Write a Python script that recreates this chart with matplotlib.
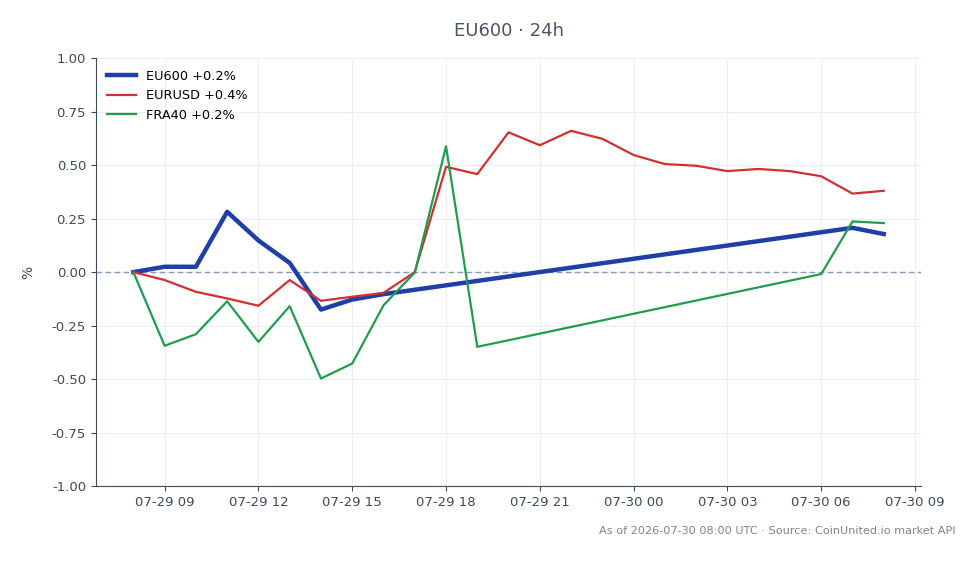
import numpy as np
import pandas as pd
import matplotlib
matplotlib.use("Agg")
import matplotlib.pyplot as plt
import matplotlib.dates as mdates

# Datos (% de variación en 24h)
eu600_t = ["2026-07-29 08:00", "2026-07-29 09:00", "2026-07-29 10:00", "2026-07-29 11:00",
           "2026-07-29 12:00", "2026-07-29 13:00", "2026-07-29 14:00", "2026-07-29 15:00",
           "2026-07-29 16:00", "2026-07-30 07:00", "2026-07-30 08:00"]
eu600_v = [0.0, 0.025, 0.025, 0.282, 0.148, 0.043, -0.175, -0.128, -0.103, 0.207, 0.178]

eurusd_t = list(pd.date_range("2026-07-29 08:00", "2026-07-30 08:00", freq="h").strftime("%Y-%m-%d %H:%M"))
eurusd_v = [0.0, -0.037, -0.092, -0.123, -0.157, -0.037, -0.134, -0.115, -0.097, 0.0,
            0.492, 0.458, 0.653, 0.593, 0.66, 0.623, 0.547, 0.505, 0.497, 0.472,
            0.482, 0.472, 0.448, 0.367, 0.38]

fra40_t = ["2026-07-29 08:00", "2026-07-29 09:00", "2026-07-29 10:00", "2026-07-29 11:00",
           "2026-07-29 12:00", "2026-07-29 13:00", "2026-07-29 14:00", "2026-07-29 15:00",
           "2026-07-29 16:00", "2026-07-29 17:00", "2026-07-29 18:00", "2026-07-29 19:00",
           "2026-07-30 06:00", "2026-07-30 07:00", "2026-07-30 08:00"]
fra40_v = [0.0, -0.344, -0.29, -0.136, -0.326, -0.159, -0.497, -0.427, -0.155, -0.002,
           0.588, -0.349, -0.009, 0.237, 0.229]

series = [
    ("EU600 +0.2%", eu600_t, eu600_v, "#1f3fa6", 3.2),
    ("EURUSD +0.4%", eurusd_t, eurusd_v, "#d32f2f", 1.6),
    ("FRA40 +0.2%", fra40_t, fra40_v, "#1e9e4c", 1.6),
]

texto = "#3d4a5c"

fig = plt.figure(figsize=(9.78, 5.64), dpi=100)
ax = fig.add_axes([0.098, 0.138, 0.844, 0.759])

for nombre, t, v, color, lw in series:
    ax.plot(pd.to_datetime(t), v, color=color, linewidth=lw, label=nombre, zorder=3)

ax.axhline(0, color="#8a9ab5", linestyle=(0, (4, 2.5)), linewidth=1.0, zorder=2)

ax.set_ylim(-1.0, 1.0)
ax.set_yticks(np.arange(-1.0, 1.01, 0.25))
ax.yaxis.set_major_formatter(matplotlib.ticker.FormatStrFormatter("%.2f"))
ax.xaxis.set_major_locator(mdates.HourLocator(byhour=[0, 3, 6, 9, 12, 15, 18, 21]))
ax.xaxis.set_major_formatter(mdates.DateFormatter("%m-%d %H"))

ax.grid(True, color="#eceef1", linewidth=0.8)
ax.set_axisbelow(True)
for s in ["top", "right"]:
    ax.spines[s].set_visible(False)
for s in ["left", "bottom"]:
    ax.spines[s].set_color(texto)
ax.tick_params(colors=texto, labelsize=9.5, labelcolor=texto)

ax.set_ylabel("%", color=texto, fontsize=10, labelpad=12)
ax.set_title("EU600 · 24h", color="#4a5568", fontsize=13, pad=16)

ax.legend(loc="upper left", frameon=False, fontsize=9.3, handlelength=2.2)

fig.text(0.977, 0.050, "As of 2026-07-30 08:00 UTC · Source: CoinUnited.io market API",
         ha="right", va="bottom", color="#7a8494", fontsize=8.1)

fig.savefig("out.png", dpi=100, facecolor="white")
